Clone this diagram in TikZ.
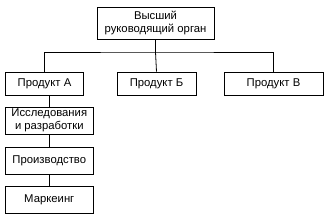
\documentclass[tikz,border=0pt]{standalone}
\usepackage{fontspec}
\setmainfont{Liberation Sans}
\usetikzlibrary{positioning}

\begin{document}
\begin{tikzpicture}[
  x=1pt, y=1pt,
  line width=0.8pt,
  unit/.style  = {draw, line width=0.8pt, align=center, inner sep=1pt,
                  font=\fontsize{11.3}{12.8}\selectfont, fill=white},
  prod/.style  = {unit, minimum height=23pt},
  dept/.style  = {unit, minimum width=88pt, minimum height=27pt},
  link/.style  = {line width=0.8pt},
]
\useasboundingbox (0,0) rectangle (325,-218);

% ---------- top management ----------
\node[unit, minimum width=117pt, minimum height=32pt] (head) at (155.5,-23)
     {Высший\\руководящий орган};

% ---------- product divisions ----------
\node[prod, minimum width=78pt] (prodA) at (44.5,-83.5)  {Продукт А};
\node[prod, minimum width=79pt] (prodB) at (156.5,-83.5) {Продукт Б};
\node[prod, minimum width=99pt] (prodV) at (273.5,-83.5) {Продукт В};

% ---------- functional units of product A ----------
\node[dept] (res)  at (49.3,-120.5) {Исследования\\и разработки};
\node[dept] (prd)  at (49.3,-160.5) {Производство};
\node[dept] (mkt)  at (49.3,-199.5) {Маркеинг};

% ---------- connectors ----------
\coordinate (bus) at (155.5,-52);
\draw[link] (head.south) -- (bus);
\draw[link] (prodA.north) |- (bus) -| (prodV.north);
\draw[link] (bus) -- (prodB.north);
\draw[link] (res.north |- prodA.south) -- (res.north);
\draw[link] (res.south) -- (prd.north);
\draw[link] (prd.south) -- (mkt.north);

\end{tikzpicture}
\end{document}
